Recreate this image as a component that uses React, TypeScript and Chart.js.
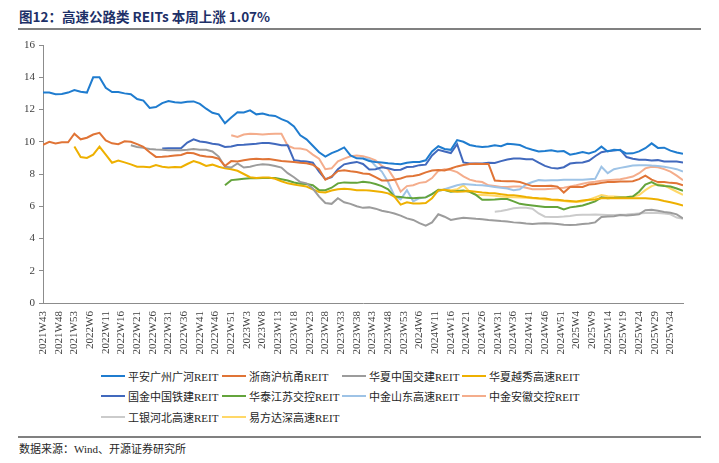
import React, { useEffect, useRef } from 'react';
import { Chart, registerables } from 'chart.js';

Chart.register(...registerables);

// ---- tick labels (one every 5 weeks, starting at week index 0) ----
const tickLabels = [
  '2021W43', '2021W48', '2021W53', '2022W6', '2022W11', '2022W16', '2022W21', '2022W26',
  '2022W31', '2022W36', '2022W41', '2022W46', '2022W51', '2023W3', '2023W8', '2023W13',
  '2023W18', '2023W23', '2023W28', '2023W33', '2023W38', '2023W43', '2023W48', '2023W53',
  '2024W6', '2024W11', '2024W16', '2024W21', '2024W26', '2024W31', '2024W36', '2024W41',
  '2024W46', '2024W51', '2025W4', '2025W9', '2025W14', '2025W19', '2025W24', '2025W29',
  '2025W34',
];
const lastWeek = 204;

// sampled weeks (every second week)
const sampleWeeks = Array.from({ length: 103 }, (_, i) => i * 2);

const seriesNames = [
  '平安广州广河REIT', '浙商沪杭甬REIT', '华夏中国交建REIT', '华夏越秀高速REIT',
  '国金中国铁建REIT', '华泰江苏交控REIT', '中金山东高速REIT', '中金安徽交控REIT',
  '工银河北高速REIT', '易方达深高速REIT',
];
const seriesColors = [
  '#1f7ccf', '#e07436', '#9c9c9c', '#eeb000',
  '#4169bd', '#64a43c', '#9ec3e6', '#f4ad8c',
  '#cbcbcb', '#ffd868',
];
// index of the first sample (in sampleWeeks) for each series
const seriesStart = [0, 0, 14, 5, 19, 29, 51, 30, 72, 63];

const pingAnGuangHe = [
  13.05, 13.05, 12.95, 12.96, 13.05, 13.2, 13.1, 13.05, 14.0, 14.0,
  13.35, 13.08, 13.08, 13.0, 12.95, 12.65, 12.55, 12.1, 12.15, 12.4,
  12.53, 12.45, 12.42, 12.48, 12.5, 12.35, 12.05, 11.8, 11.7, 11.15,
  11.5, 11.83, 11.82, 11.95, 11.7, 11.75, 11.64, 11.6, 11.4, 11.25,
  10.95, 10.4, 10.15, 9.75, 9.35, 9.08, 9.3, 9.45, 9.65, 9.15,
  8.97, 8.96, 8.8, 8.74, 8.72, 8.67, 8.63, 8.6, 8.7, 8.74,
  8.75, 8.85, 9.4, 9.72, 9.55, 9.5, 10.1, 10.0, 9.8, 9.72,
  9.68, 9.7, 9.78, 9.72, 9.87, 9.85, 9.8, 9.62, 9.5, 9.4,
  9.42, 9.47, 9.4, 9.42, 9.2, 9.27, 9.36, 9.28, 9.4, 9.7,
  9.4, 9.5, 9.47, 9.27, 9.28, 9.4, 9.6, 9.9, 9.62, 9.63,
  9.45, 9.33, 9.25,
];
const zheShangHuHangYong = [
  9.8, 10.0, 9.9, 9.97, 9.97, 10.5, 10.15, 10.25, 10.45, 10.55,
  10.08, 9.9, 9.85, 10.03, 10.0, 9.85, 9.68, 9.35, 9.06, 9.07,
  9.1, 9.14, 9.18, 9.31, 9.28, 9.15, 9.08, 9.05, 8.95, 8.5,
  8.8, 8.77, 8.85, 8.92, 8.95, 8.92, 8.93, 8.87, 8.8, 8.78,
  8.75, 8.7, 8.66, 8.58, 8.3, 7.65, 7.85, 8.18, 8.23, 8.17,
  8.12, 8.03, 8.0, 7.8, 7.6, 7.6, 7.64, 7.72, 7.85, 7.88,
  7.95, 8.1, 8.22, 8.25, 8.22, 8.34, 8.47, 8.56, 8.62, 8.63,
  8.62, 8.62, 7.6, 7.57, 7.55, 7.55, 7.5, 7.37, 7.25, 7.25,
  7.25, 7.27, 7.22, 6.85, 7.2, 7.2, 7.2, 7.35, 7.38, 7.45,
  7.5, 7.5, 7.53, 7.53, 7.55, 7.68, 7.9, 7.65, 7.5, 7.5,
  7.45, 7.42, 7.3,
];
const huaXiaZhongJiao = [
  9.78, 9.68, 9.62, 9.55, 9.52, 9.5,
  9.48, 9.47, 9.48, 9.5, 9.55, 9.51, 9.5, 9.4, 9.08, 8.45,
  8.4, 8.65, 8.4, 8.45, 8.55, 8.6, 8.57, 8.5, 8.4, 8.05,
  7.8, 7.5, 7.42, 7.1, 6.6, 6.2, 6.15, 6.5, 6.25, 6.15,
  6.0, 5.9, 5.93, 5.85, 5.72, 5.65, 5.55, 5.42, 5.25, 5.15,
  4.95, 4.8, 5.0, 5.5, 5.35, 5.15, 5.22, 5.28, 5.25, 5.22,
  5.2, 5.15, 5.12, 5.08, 5.05, 5.0, 4.97, 4.93, 4.9, 4.93,
  4.95, 4.93, 4.9, 4.85, 4.83, 4.86, 4.9, 4.93, 5.0, 5.33,
  5.36, 5.38, 5.45, 5.43, 5.45, 5.5, 5.75, 5.78, 5.72, 5.65,
  5.6, 5.5, 5.25,
];
const huaXiaYueXiu = [
  9.7, 9.05, 9.0, 9.2, 9.7,
  9.2, 8.7, 8.83, 8.72, 8.6, 8.45, 8.45, 8.42, 8.55, 8.45,
  8.41, 8.43, 8.42, 8.62, 8.8, 8.68, 8.5, 8.58, 8.45, 8.35,
  8.3, 8.2, 8.0, 7.8, 7.75, 7.78, 7.78, 7.7, 7.55, 7.42,
  7.35, 7.28, 7.22, 7.05, 6.89, 6.85, 6.98, 7.05, 7.08, 7.05,
  7.0, 7.0, 6.98, 6.93, 6.88, 6.8, 6.6, 6.1, 6.25, 6.17,
  6.17, 6.2, 6.5, 6.98, 7.02, 6.95, 6.9, 6.92, 6.95, 6.9,
  6.85, 6.82, 6.8, 6.75, 6.7, 6.68, 6.64, 6.57, 6.53, 6.5,
  6.48, 6.42, 6.4, 6.36, 6.33, 6.3, 6.35, 6.4, 6.42, 6.5,
  6.5, 6.5, 6.5, 6.5, 6.5, 6.5, 6.5, 6.47, 6.42, 6.33,
  6.25, 6.15, 6.05,
];
const guoJinTieJian = [
  9.58,
  9.6, 9.6, 9.6, 9.95, 10.15, 10.02, 9.97, 9.88, 9.83, 9.68,
  9.7, 9.8, 9.82, 9.85, 9.88, 9.93, 9.92, 9.86, 9.78, 9.78,
  8.86, 8.8, 8.78, 8.7, 8.15, 7.68, 7.8, 8.3, 8.6, 8.68,
  8.75, 8.62, 8.28, 8.3, 8.42, 8.36, 8.25, 8.27, 8.43, 8.45,
  8.55, 8.58, 9.15, 9.5, 9.4, 9.3, 9.85, 8.72, 8.65, 8.65,
  8.65, 8.7, 8.68, 8.8, 8.9, 8.96, 8.96, 8.92, 8.92, 8.7,
  8.5, 8.38, 8.34, 8.42, 8.65, 8.7, 8.72, 8.82, 9.1, 9.35,
  9.42, 9.45, 9.5, 9.05, 8.95, 8.88, 8.88, 8.83, 8.86, 8.78,
  8.77, 8.77, 8.72,
];
const huaTaiJiangSu = [
  7.3,
  7.62, 7.66, 7.7, 7.73, 7.74, 7.75, 7.75, 7.75, 7.68, 7.6,
  7.47, 7.39, 7.38, 7.3, 7.0, 7.0, 7.15, 7.42, 7.48, 7.45,
  7.45, 7.52, 7.48, 7.38, 7.25, 7.05, 6.6, 6.58, 6.52, 6.5,
  6.53, 6.55, 6.75, 7.02, 7.0, 6.9, 6.95, 6.98, 6.9, 6.7,
  6.4, 6.4, 6.42, 6.45, 6.45, 6.3, 6.15, 6.1, 6.05, 6.0,
  5.95, 5.95, 5.95, 5.8, 5.93, 5.98, 6.05, 6.17, 6.3, 6.55,
  6.5, 6.52, 6.55, 6.56, 6.6, 6.9, 7.35, 7.5, 7.3, 7.25,
  7.22, 7.1, 6.95,
];
const zhongJinShanDong = [
  8.96, 8.92, 8.5, 8.15, 7.5, 6.65, 6.42, 7.0, 6.3,
  6.5, 6.55, 6.77, 6.92, 7.05, 7.18, 7.3, 7.38, 7.35, 7.32,
  7.3, 7.25, 7.2, 7.15, 7.1, 7.0, 7.05, 7.35, 7.5, 7.62,
  7.6, 7.62, 7.62, 7.65, 7.65, 7.64, 7.65, 7.68, 7.7, 8.45,
  8.05, 8.3, 8.38, 8.45, 8.52, 8.55, 8.55, 8.52, 8.5, 8.45,
  8.38, 8.3, 8.15,
];
const zhongJinAnHui = [
  10.4, 10.3, 10.45, 10.5, 10.48, 10.45, 10.48, 10.5, 10.5, 9.75,
  9.6, 9.58, 9.5, 9.2, 8.95, 8.3, 8.35, 8.78, 8.95, 9.1,
  9.15, 9.1, 9.0, 8.85, 8.5, 8.3, 7.7, 6.9, 7.25, 7.3,
  7.45, 7.5, 7.75, 8.2, 8.3, 8.25, 8.12, 7.85, 7.65, 7.55,
  7.5, 7.3, 7.25, 7.2, 7.2, 7.22, 7.23, 7.15, 7.05, 7.05,
  7.05, 7.08, 7.12, 7.15, 7.22, 7.3, 7.4, 7.48, 7.52, 7.58,
  7.62, 7.65, 7.68, 7.75, 7.84, 8.05, 8.35, 8.45, 8.42, 8.3,
  8.15, 7.9, 7.62,
];
const gongYinHeBei = [
  5.66, 5.7, 5.78, 5.87, 5.9, 5.9, 5.85, 5.55,
  5.35, 5.34, 5.34, 5.36, 5.4, 5.45, 5.47, 5.48, 5.49, 5.48,
  5.46, 5.45, 5.47, 5.49, 5.52, 5.55, 5.58, 5.6, 5.58, 5.55,
  5.5, 5.3, 5.22,
];
const yiFangDaShenGao = [
  7.0, 7.05, 7.0, 7.05, 7.3, 6.9, 6.72,
  6.7, 6.68, 6.65, 6.6, 6.58, 6.56, 6.55, 6.52, 6.5, 6.47,
  6.42, 6.38, 6.36, 6.33, 6.28, 6.27, 6.3, 6.4, 6.55, 6.7,
  6.62, 6.6, 6.58, 6.58, 6.6, 6.7, 7.0, 7.25, 7.37, 7.3,
  7.1, 6.9, 6.7,
];

const seriesValues = [
  pingAnGuangHe, zheShangHuHangYong, huaXiaZhongJiao, huaXiaYueXiu, guoJinTieJian,
  huaTaiJiangSu, zhongJinShanDong, zhongJinAnHui, gongYinHeBei, yiFangDaShenGao,
];

const SERIF = '"Liberation Serif", "Times New Roman", "Noto Sans CJK SC", serif';
const CJK = '"Liberation Serif", "Noto Sans CJK SC", serif';

export default function App() {
  const canvasRef = useRef<HTMLCanvasElement | null>(null);

  useEffect(() => {
    const canvas = canvasRef.current;
    if (!canvas) return;
    const datasets = seriesValues.map((vals, si) => ({
      label: seriesNames[si],
      data: vals.map((v, i) => ({ x: sampleWeeks[seriesStart[si] + i], y: v })),
      borderColor: seriesColors[si],
      backgroundColor: seriesColors[si],
      borderWidth: 2,
      pointRadius: 0,
      tension: 0,
      fill: false,
    }));
    const chart = new Chart(canvas, {
      type: 'line',
      data: { datasets },
      options: {
        animation: false,
        responsive: false,
        layout: { padding: { left: 0, right: 36, top: 15, bottom: 0 } },
        plugins: { legend: { display: false }, tooltip: { enabled: false } },
        scales: {
          x: {
            type: 'linear',
            min: 0,
            max: lastWeek,
            afterFit: (scale: any) => { scale.height = 62; },
            ticks: {
              stepSize: 5,
              autoSkip: false,
              includeBounds: false,
              maxRotation: 90,
              minRotation: 90,
              padding: 8,
              color: '#404040',
              font: { family: SERIF, size: 11 },
              callback: (v: any) => {
                const n = Number(v);
                if (n % 5 !== 0) return null;
                const idx = n / 5;
                return idx < tickLabels.length ? tickLabels[idx] : null;
              },
            },
            grid: { display: false, drawTicks: false },
            border: { display: true, color: '#8c8c8c', width: 1 },
          },
          y: {
            min: 0,
            max: 16,
            afterFit: (scale: any) => { scale.width = 43; },
            ticks: {
              stepSize: 2,
              padding: 4,
              color: '#404040',
              font: { family: SERIF, size: 11 },
            },
            grid: { display: true, drawOnChartArea: false, drawTicks: true, tickLength: 4, color: '#8c8c8c' },
            border: { display: true, color: '#8c8c8c', width: 1 },
          },
        },
      },
    });
    return () => chart.destroy();
  }, []);

  const legendCols = [101, 222, 342, 462];
  const legendRows = [376, 396, 417];

  return (
    <div style={{ position: 'absolute', left: 0, top: 0, width: 719, height: 463, background: '#fff', overflow: 'hidden' }}>
      <div
        style={{
          position: 'absolute', left: 19, top: 6, fontFamily: '"Noto Sans CJK SC", sans-serif',
          fontWeight: 700, fontSize: 13.5, color: '#1d3068', whiteSpace: 'nowrap', letterSpacing: 0,
        }}
      >
        图12：高速公路类 REITs 本周上涨 1.07%
      </div>
      <div style={{ position: 'absolute', left: 18, top: 28, width: 683, height: 1.5, background: '#808080' }} />
      <canvas
        ref={canvasRef}
        width={719}
        height={335}
        style={{ position: 'absolute', left: 0, top: 30, width: 719, height: 335 }}
      />
      {seriesNames.map((name, i) => {
        const c = i % 4;
        const r = Math.floor(i / 4);
        return (
          <div
            key={name}
            style={{
              position: 'absolute', left: legendCols[c], top: legendRows[r] - 8, height: 16,
              display: 'flex', alignItems: 'center', whiteSpace: 'nowrap',
            }}
          >
            <span style={{ display: 'inline-block', width: 24, height: 2, background: seriesColors[i], marginRight: 3 }} />
            <span style={{ fontFamily: CJK, fontSize: 11, color: '#262626' }}>{name}</span>
          </div>
        );
      })}
      <div style={{ position: 'absolute', left: 18, top: 436, width: 683, height: 1.5, background: '#808080' }} />
      <div
        style={{
          position: 'absolute', left: 19, top: 440, fontFamily: CJK, fontSize: 11,
          color: '#262626', whiteSpace: 'nowrap',
        }}
      >
        数据来源：Wind、开源证券研究所
      </div>
    </div>
  );
}
